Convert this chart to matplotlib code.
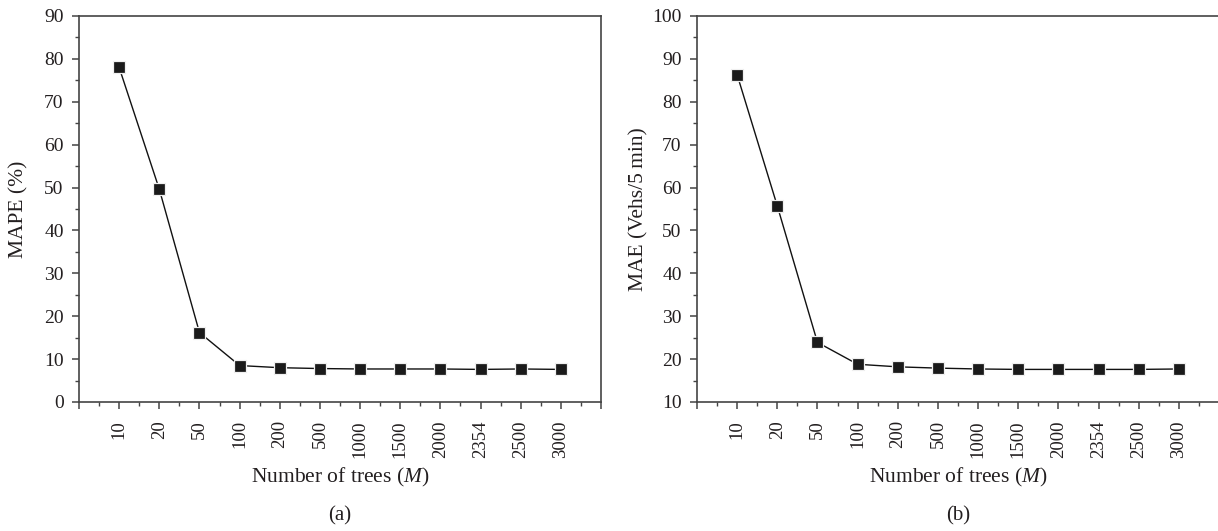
import matplotlib
matplotlib.use("Agg")
import matplotlib.pyplot as plt
from matplotlib.ticker import MultipleLocator, FixedLocator

plt.rcParams['font.family'] = ['Liberation Serif', 'DejaVu Serif']
plt.rcParams['mathtext.fontset'] = 'custom'
plt.rcParams['mathtext.it'] = 'Liberation Serif:italic'
plt.rcParams['mathtext.rm'] = 'Liberation Serif'

tree_labels = ["10", "20", "50", "100", "200", "500", "1000", "1500", "2000", "2354", "2500", "3000"]
mape_values = [78.0, 49.6, 16.2, 8.5, 8.0, 7.8, 7.7, 7.7, 7.7, 7.6, 7.7, 7.6]
mae_values = [86.3, 55.7, 23.9, 18.8, 18.2, 17.9, 17.7, 17.6, 17.6, 17.6, 17.6, 17.7]

W, H = 1218, 531
fig = plt.figure(figsize=(W / 100, H / 100), dpi=100)

spine_col = '#444444'
text_col = '#231f20'

def make_axes(left_px, right_px, values, ylim, ylabel, ylabel_x_px, sublabel):
    ax = fig.add_axes([left_px / W, 1 - 402 / H, (right_px - left_px) / W, (402 - 16) / H])
    x = list(range(1, len(values) + 1))
    ax.plot(x, values, color='#111111', lw=1.0, marker='s', markersize=8.3,
            markerfacecolor='#1a1a1a', markeredgecolor='#f0f0f0', markeredgewidth=0.9, zorder=3)
    ax.set_xlim(0, len(values) + 1)
    ax.set_ylim(*ylim)
    ax.xaxis.set_major_locator(FixedLocator(list(range(0, len(values) + 2))))
    ax.set_xticklabels([''] + tree_labels + [''], rotation=90, fontsize=13.5, color=text_col)
    ax.xaxis.set_minor_locator(FixedLocator([i + 0.5 for i in range(0, len(values) + 1)]))
    ax.yaxis.set_major_locator(MultipleLocator(10))
    ax.yaxis.set_minor_locator(MultipleLocator(5))
    ax.tick_params(axis='both', which='major', direction='out', length=5, width=1.1,
                   color=spine_col, labelsize=14, labelcolor=text_col)
    ax.tick_params(axis='x', which='major', pad=8, labelsize=13.5)
    ax.tick_params(axis='y', which='major', pad=6)
    ax.tick_params(axis='both', which='minor', direction='out', length=3, width=1.0,
                   color=spine_col)
    for s in ax.spines.values():
        s.set_color(spine_col)
        s.set_linewidth(1.2)
    ax.set_ylabel(ylabel, fontsize=15.5, color=text_col)
    ax.yaxis.set_label_coords((ylabel_x_px - left_px) / (right_px - left_px), 0.5)
    ax.yaxis.label.set_va('center')
    ax.set_xlabel(r'Number of trees ($M$)', fontsize=15.5, color=text_col)
    ax.xaxis.set_label_coords(0.5, (402 - 477) / 386)
    ax.xaxis.label.set_va('center')
    cx = (left_px + right_px) / 2 / W
    fig.text(cx, 1 - 516 / H, sublabel, ha='center', va='center', fontsize=15, color=text_col)
    return ax

make_axes(79, 601, mape_values, (0, 90), 'MAPE (%)', 19, '(a)')
make_axes(697, 1219, mae_values, (10, 100), 'MAE (Vehs/5\u2009min)', 639, '(b)')

fig.savefig('out.png', dpi=100, facecolor='white')
